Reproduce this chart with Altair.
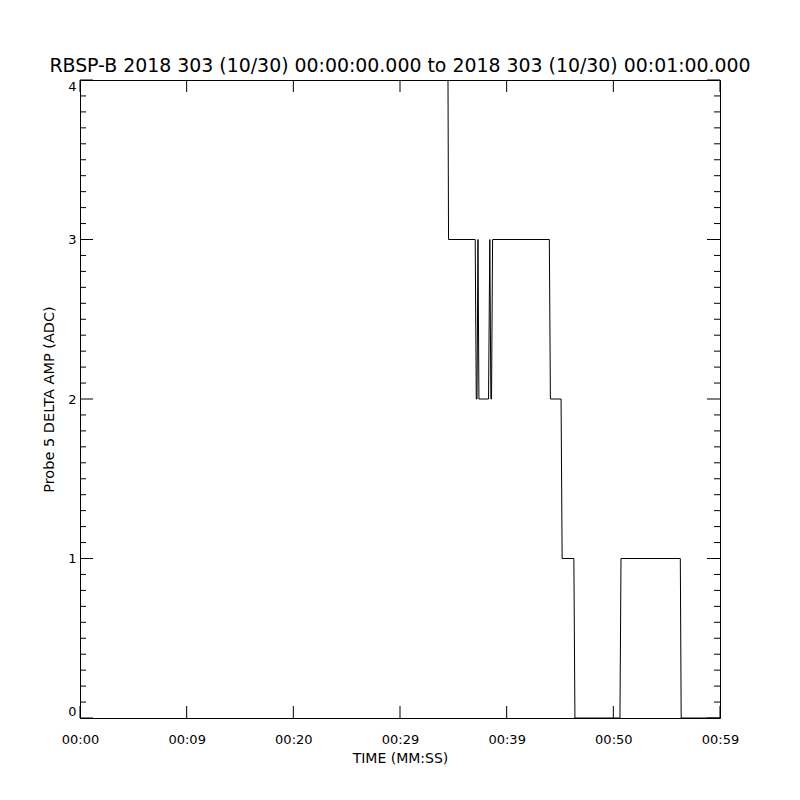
import altair as alt
import pandas as pd

# Data (time in seconds, value in ADC)
times = [0, 34.45, 34.55, 37.05, 37.15, 37.22, 37.31, 37.40, 38.30, 38.42, 38.52,
         38.58, 38.68, 44.00, 44.10, 45.10, 45.20, 46.30, 46.40, 50.62, 50.72,
         56.28, 56.36, 60]
values = [5, 5, 3, 3, 2, 2, 3, 2, 2, 3, 2, 2, 3, 3, 2, 2, 1, 1, 0, 0, 1, 1, 0, 0]

x_tick_values = [0, 10, 20, 30, 40, 50, 60]
x_tick_labels = ["00:00", "00:09", "00:20", "00:29", "00:39", "00:50", "00:59"]
y_major = [0, 1, 2, 3, 4]
y_minor = [round(i * 0.1, 1) for i in range(41) if i % 10 != 0]

title_text = "RBSP-B 2018 303 (10/30) 00:00:00.000 to 2018 303 (10/30) 00:01:00.000"
x_title = "TIME (MM:SS)"
y_title = "Probe 5 DELTA AMP (ADC)"

W, H = 640, 638
FONT = "DejaVu Sans"

df = pd.DataFrame({"t": times, "v": values})
xs = alt.Scale(domain=[0, 60], nice=False, zero=False)
ys = alt.Scale(domain=[0, 4], nice=False, zero=False)

label_expr = "[" + ",".join(f"'{l}'" for l in x_tick_labels) + "][round(datum.value/10)]"

x_axis = alt.Axis(values=x_tick_values, labelExpr=label_expr, ticks=False,
                  domain=False, grid=False, title=x_title, labelPadding=15,
                  titlePadding=5, labelFontSize=13, titleFontSize=14, labelFlush=False)
y_axis = alt.Axis(values=y_major, ticks=False, domain=False, grid=False,
                  title=y_title, labelPadding=4, titlePadding=11,
                  labelFontSize=13, titleFontSize=14.5, labelFlush=True)

line = alt.Chart(df).mark_line(color="black", strokeWidth=1, clip=True, interpolate="linear").encode(
    x=alt.X("t:Q", scale=xs, axis=x_axis),
    y=alt.Y("v:Q", scale=ys, axis=y_axis),
    order="t:Q",
)

ymaj = pd.DataFrame({"v": y_major})
ymin = pd.DataFrame({"v": y_minor})
xmaj = pd.DataFrame({"t": x_tick_values})

def yticks(data, x0, x1):
    return alt.Chart(data).mark_rule(color="black", strokeWidth=1).encode(
        y=alt.Y("v:Q", scale=ys, axis=y_axis), x=alt.value(x0), x2=alt.value(x1))

def xticks(data, y0, y1):
    return alt.Chart(data).mark_rule(color="black", strokeWidth=1).encode(
        x=alt.X("t:Q", scale=xs, axis=x_axis), y=alt.value(y0), y2=alt.value(y1))

chart = alt.layer(
    line,
    yticks(ymaj, 0, 13), yticks(ymin, 0, 6),
    yticks(ymaj, W - 13, W), yticks(ymin, W - 6, W),
    xticks(xmaj, H - 12, H), xticks(xmaj, 0, 12),
).properties(
    width=W, height=H,
    title=alt.TitleParams(title_text, fontSize=18.9, fontWeight="normal", font=FONT,
                          anchor="middle", offset=4, color="black"),
    autosize=alt.AutoSizeParams(type="none"),
    padding={"left": 72, "top": 72, "right": 72, "bottom": 74},
    background="white",
).configure_view(
    stroke="black", strokeWidth=1
).configure_axis(
    labelFont=FONT, titleFont=FONT, labelColor="black", titleColor="black",
    titleFontWeight="normal"
)

chart.save("out.html", embed_options={"renderer": "svg", "actions": False})
